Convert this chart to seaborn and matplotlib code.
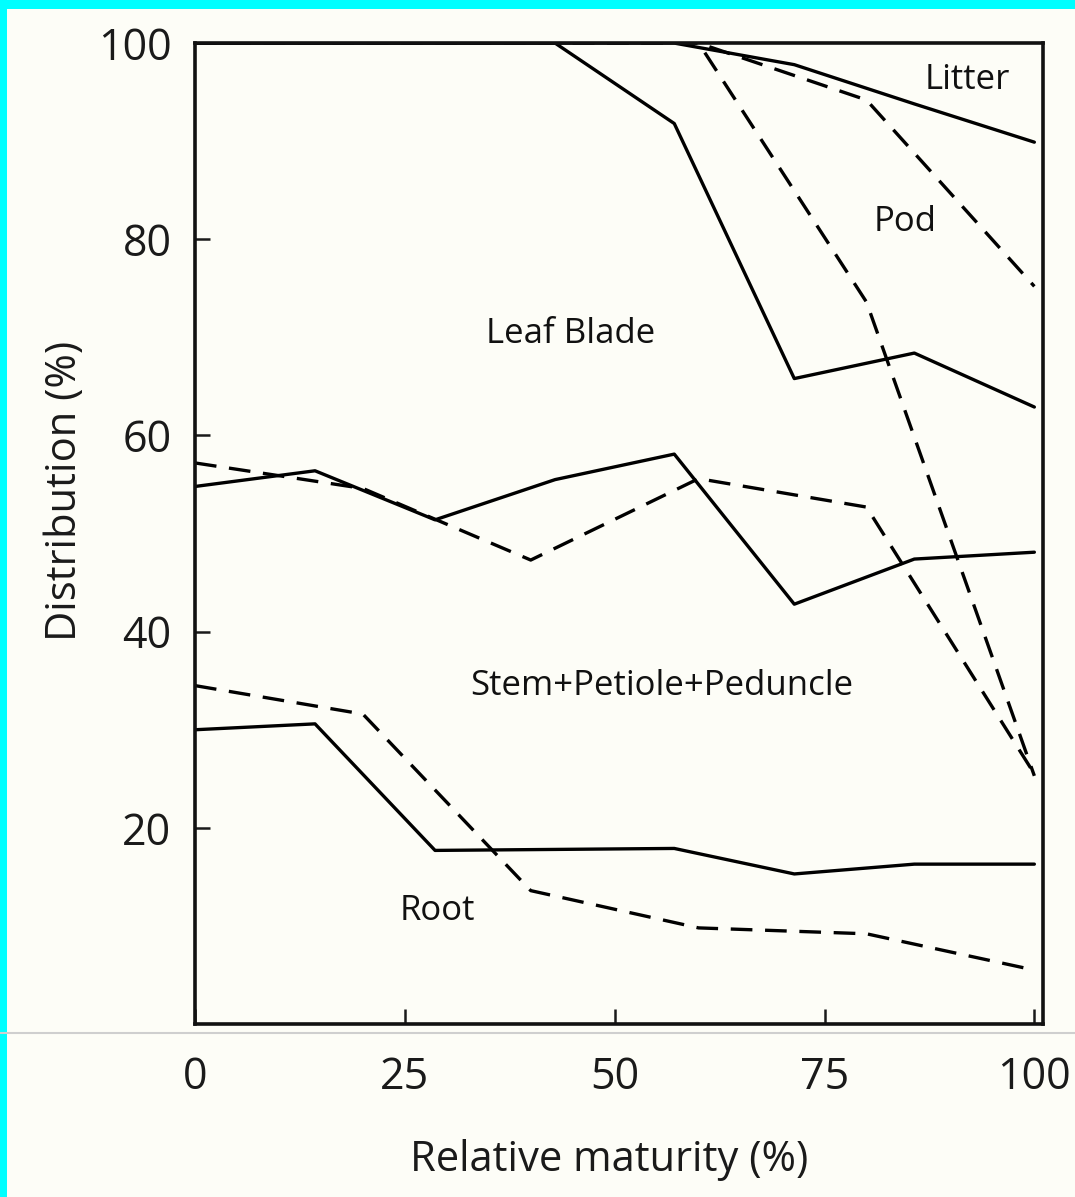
import pandas as pd
import seaborn as sns
import matplotlib.pyplot as plt
from matplotlib.patches import Rectangle
from matplotlib.lines import Line2D

# sampling points (relative maturity, %)
x_solid = [0, 14.3, 28.6, 42.9, 57.1, 71.4, 85.7, 100]
x_dashed = [0, 20, 40, 60, 80, 100]

# cumulative distribution (%), upper edge of each component
solid_root = [30.0, 30.6, 17.7, 17.8, 17.9, 15.3, 16.3, 16.3]
solid_stem = [54.8, 56.4, 51.4, 55.5, 58.1, 42.8, 47.4, 48.1]
solid_leaf = [100, 100, 100, 100, 91.8, 65.8, 68.4, 62.9]
solid_pod = [100, 100, 100, 100, 100, 97.8, 93.8, 89.9]

dashed_root = [34.5, 31.6, 13.6, 9.8, 9.2, 5.5]
dashed_stem = [57.2, 54.6, 47.3, 55.6, 52.7, 25.5]
dashed_leaf = [100, 100, 100, 100, 73.6, 25.3]
dashed_pod = [100, 100, 100, 100, 94.2, 75.2]

# region names written inside the plot
region_labels = ['Litter', 'Pod', 'Leaf Blade', 'Stem+Petiole+Peduncle', 'Root']
label_x = [92.0, 84.6, 44.8, 55.6, 28.9]
label_y = [96.2, 81.8, 70.3, 34.5, 11.5]

x_ticks = [0, 25, 50, 75, 100]
y_ticks = [20, 40, 60, 80, 100]

curves = [
    ('solid_root', 'solid', x_solid, solid_root),
    ('solid_stem', 'solid', x_solid, solid_stem),
    ('solid_leaf', 'solid', x_solid, solid_leaf),
    ('solid_pod', 'solid', x_solid, solid_pod),
    ('dashed_root', 'dashed', x_dashed, dashed_root),
    ('dashed_stem', 'dashed', x_dashed, dashed_stem),
    ('dashed_leaf', 'dashed', x_dashed, dashed_leaf),
    ('dashed_pod', 'dashed', x_dashed, dashed_pod),
]
rows = []
for name, kind, xs, ys in curves:
    for x, y in zip(xs, ys):
        rows.append({'curve': name, 'kind': kind, 'maturity': x, 'dist': y})
df = pd.DataFrame(rows)

sns.set_style('white')
plt.rcParams['font.family'] = ['Open Sans', 'DejaVu Sans']
bg = '#fdfdf7'

fig = plt.figure(figsize=(10.75, 11.97), dpi=100, facecolor=bg)
ax = fig.add_axes([0.1814, 0.1445, 0.7886, 0.8195])
ax.set_facecolor(bg)

sns.lineplot(data=df, x='maturity', y='dist', units='curve', style='kind',
             dashes={'solid': '', 'dashed': (6.5, 3.8)}, estimator=None,
             color='black', linewidth=2.4, legend=False, sort=False, ax=ax)

for txt, tx, ty in zip(region_labels, label_x, label_y):
    ax.text(tx, ty, txt, ha='center', va='center', fontsize=25,
            fontweight='medium', color='#111111')

ax.set_xlim(0, 101)
ax.set_ylim(0, 100)
ax.set_xticks(x_ticks)
ax.set_yticks(y_ticks)
ax.tick_params(direction='in', length=11, width=1.8, labelsize=31,
               colors='#1a1a1a', bottom=True, left=True, top=False, right=False)
ax.tick_params(axis='y', pad=17)
ax.tick_params(axis='x', pad=23)
for sp in ax.spines.values():
    sp.set_linewidth(2.6)
    sp.set_color('#111111')

ax.set_xlabel('Relative maturity (%)', fontsize=30, color='#1a1a1a')
ax.set_ylabel('Distribution (%)', fontsize=30, color='#1a1a1a')
ax.xaxis.set_label_coords(0.489, -0.117)
ax.yaxis.set_label_coords(-0.128, 0.543)

# scan artefacts: faint page edge and cyan frame
fig.add_artist(Line2D([0, 1], [0.137, 0.137], transform=fig.transFigure,
                      color='#cfcfcf', linewidth=1.5))
fig.add_artist(Rectangle((0, 0.9925), 1, 0.0075, transform=fig.transFigure,
                         facecolor='#00ffff', edgecolor='none'))
fig.add_artist(Rectangle((0, 0), 0.0065, 1, transform=fig.transFigure,
                         facecolor='#00ffff', edgecolor='none'))

fig.savefig('out.png', dpi=100, facecolor=bg)
